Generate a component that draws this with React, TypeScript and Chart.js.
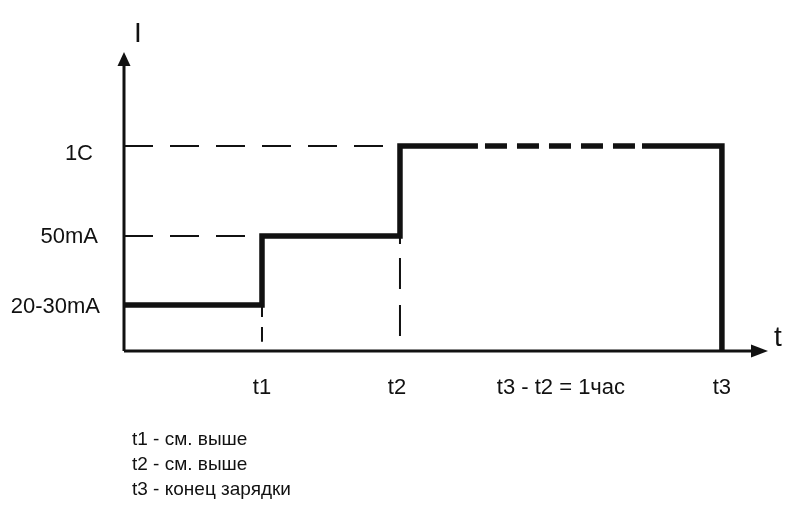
import React, { useEffect, useRef } from "react";
import { Chart, registerables } from "chart.js";

Chart.register(...registerables);

// Time axis (units: t1 = 1, t2 = 2)
const T1 = 1;
const T2 = 2;
const T3 = 4.333;
const X_MAX = 4.667;
// Current axis (units: 20-30mA level = 1)
const LEVEL_LOW = 1;
const LEVEL_MID = 2.5;
const LEVEL_1C = 4.457;
const Y_MAX = 6.5;

const yTickValues = [LEVEL_1C, LEVEL_MID, LEVEL_LOW];
const yTickLabels = ["1C", "50mA", "20-30mA"];
const xTickValues = [T1, T2, (T2 + T3) / 2, T3];
const xTickLabels = ["t1", "t2", "t3 - t2 = 1час", "t3"];
const notes = ["t1 - см. выше", "t2 - см. выше", "t3 - конец зарядки"];

// Step profile (solid part up to the dashed stretch)
const stepX = [0, T1, T1, T2, T2, 2.565];
const stepY = [LEVEL_LOW, LEVEL_LOW, LEVEL_MID, LEVEL_MID, LEVEL_1C, LEVEL_1C];
// Dashed stretch at 1C
const dashX = [2.616, 3.703];
const dashY = [LEVEL_1C, LEVEL_1C];
// Tail of profile
const tailX = [3.754, T3, T3];
const tailY = [LEVEL_1C, LEVEL_1C, 0];

const pts = (xs: number[], ys: number[]) => xs.map((x, i) => ({ x, y: ys[i] }));

export default function App() {
  const ref = useRef<HTMLCanvasElement>(null);
  useEffect(() => {
    if (!ref.current) return;
    const FONT = "'Liberation Sans', Arial, sans-serif";
    const ink = "#111";
    const overlay = {
      id: "overlay",
      afterDatasetsDraw(chart: any) {
        const ctx = chart.ctx;
        const xs = chart.scales.x;
        const ys = chart.scales.y;
        const ox = xs.getPixelForValue(0);
        const oy = ys.getPixelForValue(0);
        const xt = xs.getPixelForValue(X_MAX);
        const yt = ys.getPixelForValue(Y_MAX);
        ctx.save();
        ctx.fillStyle = ink;
        // arrowheads
        ctx.beginPath();
        ctx.moveTo(ox, yt);
        ctx.lineTo(ox - 6.5, yt + 14);
        ctx.lineTo(ox + 6.5, yt + 14);
        ctx.closePath();
        ctx.fill();
        ctx.beginPath();
        ctx.moveTo(xt, oy);
        ctx.lineTo(xt - 17, oy - 6.5);
        ctx.lineTo(xt - 17, oy + 6.5);
        ctx.closePath();
        ctx.fill();
        // axis names
        ctx.font = `28px ${FONT}`;
        ctx.textAlign = "center";
        ctx.textBaseline = "middle";
        ctx.fillText("I", ox + 14, yt - 18);
        ctx.fillText("t", xt + 10, oy - 13);
        // y labels
        ctx.font = `22px ${FONT}`;
        ctx.textAlign = "right";
        const dy = [8, 1, 2];
        const rx = [93, 98, 100];
        yTickValues.forEach((v, i) => {
          ctx.fillText(yTickLabels[i], rx[i], ys.getPixelForValue(v) + dy[i]);
        });
        // x labels
        ctx.textAlign = "center";
        xTickValues.forEach((v, i) => {
          ctx.fillText(xTickLabels[i], xs.getPixelForValue(v) - (i === 1 ? 3 : 0), oy + 37);
        });
        // notes
        ctx.font = `19px ${FONT}`;
        ctx.textAlign = "left";
        notes.forEach((n, i) => {
          ctx.fillText(n, 132, oy + 89 + i * 25);
        });
        ctx.restore();
      },
    };
    const thinDash = {
      borderColor: ink,
      borderWidth: 2,
      borderDash: [29, 17],
      pointRadius: 0,
      fill: false,
      clip: false,
    };
    const chart = new Chart(ref.current, {
      type: "line",
      data: {
        datasets: [
          { ...thinDash, data: pts([0, T2], [LEVEL_1C, LEVEL_1C]) },
          { ...thinDash, data: pts([0, T1], [LEVEL_MID, LEVEL_MID]) },
          { ...thinDash, borderDash: [12, 10, 25, 100], data: pts([T1, T1], [LEVEL_LOW, 0.2]) },
          { ...thinDash, borderDash: [8, 14, 31, 16, 31, 100], data: pts([T2, T2], [LEVEL_MID, 0.2]) },
          {
            borderColor: ink,
            borderWidth: 3,
            pointRadius: 0,
            clip: false,
            data: pts([0, X_MAX - 0.05], [0, 0]),
          },
          {
            borderColor: ink,
            borderWidth: 3,
            pointRadius: 0,
            clip: false,
            data: pts([0, 0], [0, Y_MAX - 0.15]),
          },
          {
            borderColor: ink,
            borderWidth: 5.5,
            borderJoinStyle: "miter",
            pointRadius: 0,
            clip: false,
            data: pts(stepX, stepY),
          },
          {
            borderColor: ink,
            borderWidth: 5.5,
            borderDash: [22, 10],
            borderCapStyle: "butt",
            pointRadius: 0,
            clip: false,
            data: pts(dashX, dashY),
          },
          {
            borderColor: ink,
            borderWidth: 5.5,
            borderJoinStyle: "miter",
            pointRadius: 0,
            clip: false,
            data: pts(tailX, tailY),
          },
        ],
      },
      options: {
        animation: false,
        responsive: false,
        layout: { padding: { left: 124, right: 32, top: 52, bottom: 181 } },
        plugins: { legend: { display: false }, tooltip: { enabled: false } },
        scales: {
          x: { type: "linear", min: 0, max: X_MAX, display: false },
          y: { type: "linear", min: 0, max: Y_MAX, display: false },
        },
        elements: { line: { tension: 0 } },
      },
      plugins: [overlay],
    } as any);
    return () => chart.destroy();
  }, []);
  return (
    <div style={{ position: "absolute", left: 0, top: 0, width: 800, height: 532, background: "#fff" }}>
      <canvas ref={ref} width={800} height={532} />
    </div>
  );
}
